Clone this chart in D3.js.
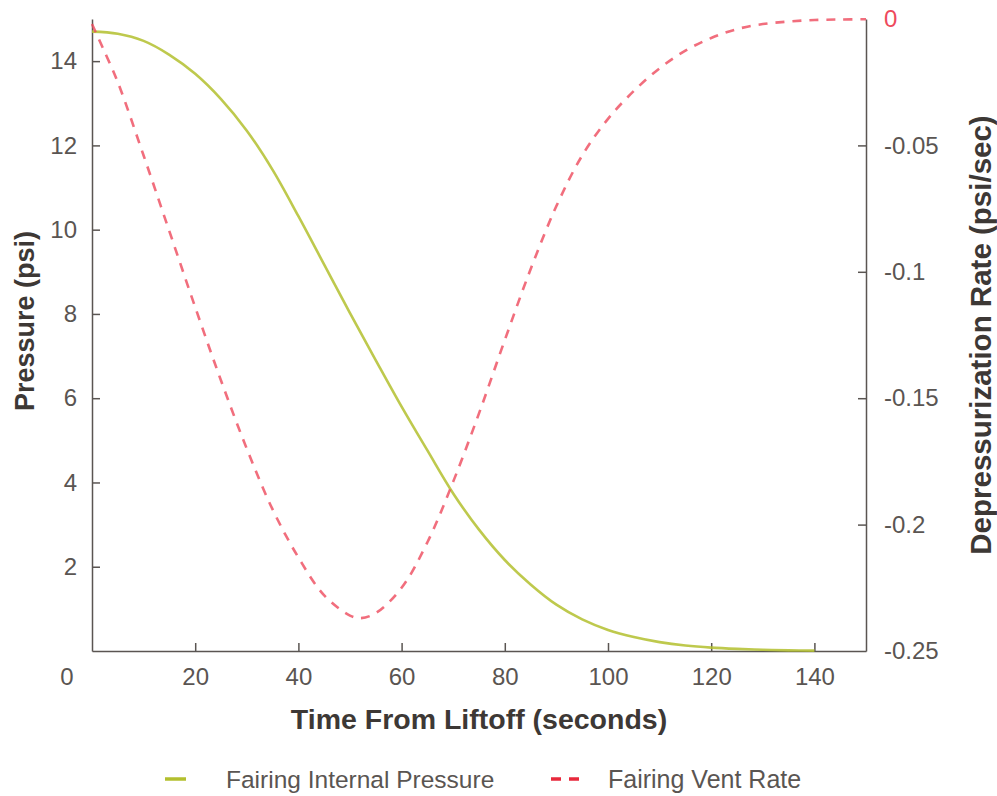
<!DOCTYPE html>
<html>
<head>
<meta charset="utf-8">
<script src="https://cdn.jsdelivr.net/npm/d3@7/dist/d3.min.js"></script>
<style>
  html, body { margin: 0; padding: 0; background: #fff; }
  svg { display: block; font-family: "Liberation Sans", Arial, Helvetica, sans-serif; }
</style>
</head>
<body>
<svg id="chart" width="997" height="796"></svg>
<script>
// ---- data ----
const pressureTime = [0, 5, 10, 15, 20, 25, 30, 35, 40, 45, 50, 55, 60, 65, 70, 75, 80, 85, 90, 95, 100, 105, 110, 115, 120, 125, 130, 135, 140];
const pressureValues = [14.7, 14.65, 14.48, 14.15, 13.7, 13.1, 12.35, 11.42, 10.32, 9.17, 8.02, 6.9, 5.8, 4.76, 3.74, 2.88, 2.16, 1.58, 1.1, 0.75, 0.5, 0.33, 0.21, 0.13, 0.08, 0.05, 0.03, 0.015, 0.01];

const ventTime = [0, 2, 5, 10, 15, 20, 25, 30, 35, 40, 45, 50, 52, 55, 60, 65, 70, 75, 80, 85, 90, 95, 100, 105, 110, 115, 120, 125, 130, 135, 140, 145, 150];
const ventValues = [-0.002, -0.011, -0.025, -0.054, -0.084, -0.114, -0.143, -0.170, -0.194, -0.213, -0.228, -0.236, -0.237, -0.235, -0.225, -0.207, -0.183, -0.156, -0.127, -0.099, -0.074, -0.054, -0.0395, -0.0285, -0.0195, -0.0125, -0.0075, -0.004, -0.002, -0.001, -0.0004, -0.0002, -0.0001];

const xTicks = [20, 40, 60, 80, 100, 120, 140];
const leftTicks = [2, 4, 6, 8, 10, 12, 14];
const rightTicks = [0, -0.05, -0.1, -0.15, -0.2, -0.25];
const rightTickLabels = ["0", "-0.05", "-0.1", "-0.15", "-0.2", "-0.25"];

const seriesNames = ["Fairing Internal Pressure", "Fairing Vent Rate"];

// ---- layout ----
const svg = d3.select("#chart");
const L = 92, R = 866, T = 19, B = 651;
const axisColor = "#5a5552";
const labelColor = "#5a5552";
const titleColor = "#3d3835";
const green = "#b3bf2e";
const red = "#ee4a5c";
const tickFont = 24;

const x = d3.scaleLinear().domain([0, 150]).range([L, R]);
const yL = d3.scaleLinear().domain([0, 15]).range([B, T]);
const yR = d3.scaleLinear().domain([-0.25, 0]).range([B, T]);

// axes
const gx = svg.append("g").attr("transform", `translate(0,${B})`)
  .call(d3.axisBottom(x).tickValues(xTicks).tickSizeInner(-8).tickSizeOuter(0).tickPadding(17).tickFormat(d3.format("d")));
const gl = svg.append("g").attr("transform", `translate(${L},0)`)
  .call(d3.axisLeft(yL).tickValues(leftTicks).tickSizeInner(-8).tickSizeOuter(0).tickPadding(15).tickFormat(d3.format("d")));
const gr = svg.append("g").attr("transform", `translate(${R},0)`)
  .call(d3.axisRight(yR).tickValues(rightTicks).tickSizeInner(-8).tickSizeOuter(0).tickPadding(18)
    .tickFormat((d, i) => rightTickLabels[i]));

[gx, gl, gr].forEach(g => {
  g.select(".domain").attr("stroke", axisColor).attr("stroke-width", 1.5);
  g.selectAll(".tick line").attr("stroke", axisColor).attr("stroke-width", 1.5);
  g.selectAll(".tick text").attr("fill", labelColor).attr("font-size", tickFont);
});
gr.selectAll(".tick").filter(d => d === 0 || d === -0.25).select("line").remove();
gr.selectAll(".tick").filter(d => d === 0).select("text").attr("fill", red);
gx.selectAll(".tick text").attr("dy", "0.71em");

// x "0" label at the corner
svg.append("text").attr("x", x(0) - 25).attr("y", B + 17).attr("dy", "0.71em")
  .attr("text-anchor", "middle").attr("font-size", tickFont).attr("fill", labelColor).text("0");

// ---- lines ----
const pressureLine = d3.line().x((d, i) => x(pressureTime[i])).y(d => yL(d)).curve(d3.curveCatmullRom.alpha(0.5));
svg.append("path").datum(pressureValues)
  .attr("d", pressureLine).attr("fill", "none").attr("stroke", green)
  .attr("stroke-width", 2.6).attr("stroke-opacity", 0.85);

const ventLine = d3.line().x((d, i) => x(ventTime[i])).y(d => yR(d)).curve(d3.curveCatmullRom.alpha(0.5));
svg.append("path").datum(ventValues)
  .attr("d", ventLine).attr("fill", "none").attr("stroke", red)
  .attr("stroke-width", 2.6).attr("stroke-opacity", 0.8)
  .attr("stroke-dasharray", "9,8");

// ---- axis titles ----
svg.append("text").attr("x", (L + R) / 2).attr("y", 729)
  .attr("text-anchor", "middle").attr("font-size", 28.5).attr("font-weight", "bold")
  .attr("fill", titleColor).text("Time From Liftoff (seconds)");
svg.append("text").attr("transform", `translate(34,321) rotate(-90)`)
  .attr("text-anchor", "middle").attr("font-size", 27).attr("font-weight", "bold")
  .attr("fill", titleColor).text("Pressure (psi)");
svg.append("text").attr("transform", `translate(991,335) rotate(-90)`)
  .attr("text-anchor", "middle").attr("font-size", 29.5).attr("font-weight", "bold")
  .attr("fill", titleColor).text("Depressurization Rate (psi/sec)");

// ---- legend ----
const lg = svg.append("g");
lg.append("line").attr("x1", 165).attr("x2", 186).attr("y1", 779).attr("y2", 779)
  .attr("stroke", green).attr("stroke-width", 3.5);
lg.append("text").attr("x", 226).attr("y", 779).attr("dy", "0.35em")
  .attr("font-size", 24.5).attr("fill", labelColor).text(seriesNames[0]);
lg.append("line").attr("x1", 551).attr("x2", 581).attr("y1", 779).attr("y2", 779)
  .attr("stroke", "#e8293c").attr("stroke-width", 3.5).attr("stroke-dasharray", "10,8");
lg.append("text").attr("x", 608).attr("y", 779).attr("dy", "0.35em")
  .attr("font-size", 25).attr("fill", labelColor).text(seriesNames[1]);
</script>
</body>
</html>
